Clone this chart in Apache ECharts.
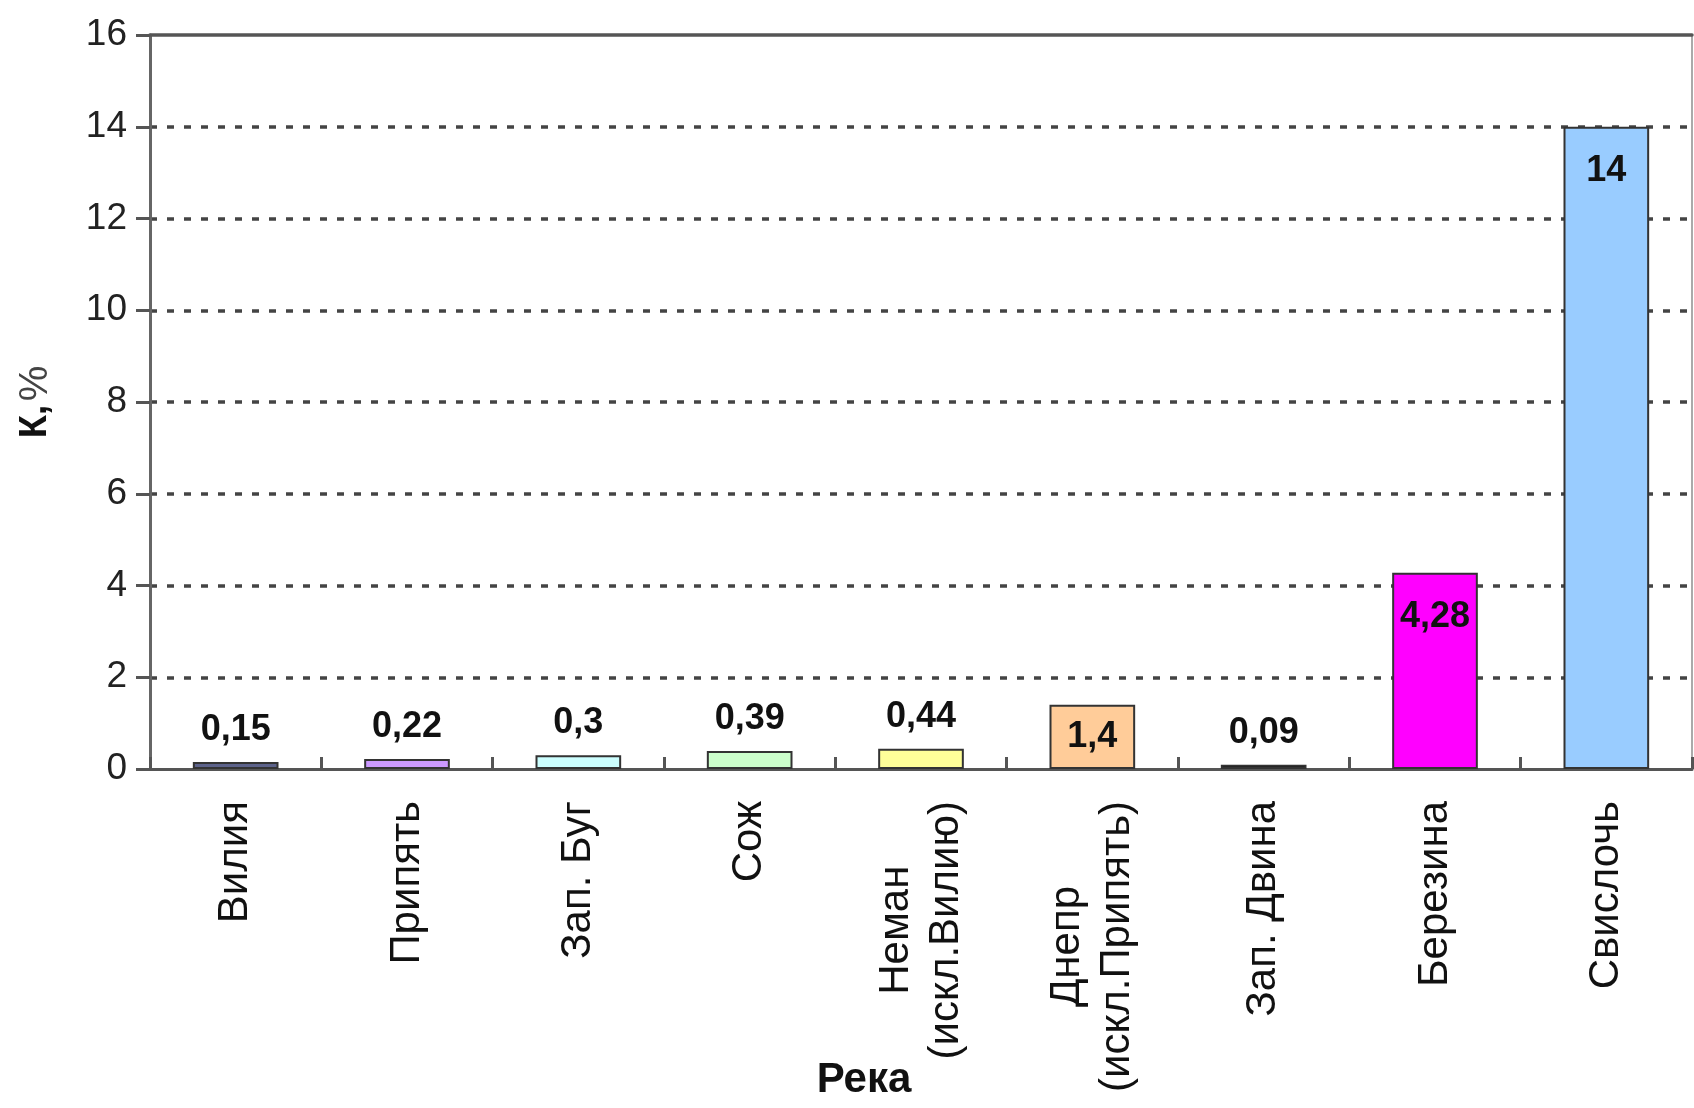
<!DOCTYPE html>
<html>
<head>
<meta charset="utf-8">
<title>К, % по рекам</title>
<script src="https://cdn.jsdelivr.net/npm/echarts@6/dist/echarts.min.js"></script>
<style>
  html, body { margin: 0; padding: 0; background: #ffffff; }
  #chart { width: 1694px; height: 1108px; }
</style>
</head>
<body>
<div id="chart"></div>
<script>
// Rivers along the category axis
const categories = [
  'Вилия', 'Припять', 'Зап. Буг', 'Сож', 'Неман\n(искл.Вилию)',
  'Днепр\n(искл.Припять)', 'Зап. Двина', 'Березина', 'Свислочь'
];
// K, % for each river
const values = [0.15, 0.22, 0.3, 0.39, 0.44, 1.4, 0.09, 4.28, 14];
// Fill colour of each bar
const barColors = [
  '#5c628a', '#cc99ff', '#ccffff', '#ccffcc', '#ffff99',
  '#ffcc99', '#000000', '#ff00ff', '#99ccff'
];
// Where each value label sits relative to its bar
const labelPlacement = ['top', 'top', 'top', 'top', 'top', 'inside', 'top', 'insideTop', 'insideTop'];
// Value axis range and step
const yMin = 0, yMax = 16, yStep = 2;

const NARROW = "'Liberation Sans Narrow', 'Arial Narrow', 'Liberation Sans', Arial, sans-serif";
const SANS = "'Liberation Sans', Arial, sans-serif";

const chart = echarts.init(document.getElementById('chart'), null, { renderer: 'canvas' });

const catFont = { fontFamily: SANS, fontSize: 42, color: '#111', lineHeight: 50 };

const seriesData = values.map((v, i) => ({
  value: v,
  itemStyle: { color: barColors[i] },
  label: {
    position: labelPlacement[i],
    distance: labelPlacement[i] === 'insideTop' ? 26 : 14
  }
}));

chart.setOption({
  backgroundColor: '#ffffff',
  animation: false,
  grid: { left: 150, right: 2, top: 35, bottom: 339, containLabel: false, outerBoundsMode: 'none' },
  xAxis: [
    {
      type: 'category',
      data: categories,
      position: 'bottom',
      name: 'Река',
      nameLocation: 'middle',
      nameGap: 290,
      nameMoveOverlap: false,
      nameTextStyle: {
        fontFamily: SANS, fontSize: 42, fontWeight: 'bold', color: '#111',
        padding: [0, 114, 0, 0]
      },
      axisLine: { show: true, lineStyle: { color: '#555', width: 3 } },
      axisTick: { show: true, inside: true, length: 12, alignWithLabel: false, lineStyle: { color: '#555', width: 3 } },
      axisLabel: {
        rotate: 90,
        margin: 32,
        interval: 0,
        ...catFont,
        formatter: function (v) {
          if (v.indexOf('\n') < 0) return v;
          return v.split('\n').map(s => '{c|' + s + '}').join('\n');
        },
        rich: { c: { ...catFont, align: 'center' } }
      },
      splitLine: { show: false }
    },
    {
      type: 'category',
      data: categories,
      position: 'top',
      axisLine: { show: true, onZero: false, lineStyle: { color: '#555', width: 3.5 } },
      axisTick: { show: false },
      axisLabel: { show: false },
      splitLine: { show: false }
    }
  ],
  yAxis: [
    {
      type: 'value',
      min: yMin,
      max: yMax,
      interval: yStep,
      position: 'left',
      name: '{b|К,} {n|%}',
      nameLocation: 'middle',
      nameRotate: 90,
      nameGap: 94,
      nameMoveOverlap: false,
      nameTextStyle: {
        rich: {
          b: { fontFamily: SANS, fontSize: 38, fontWeight: 'bold', color: '#111' },
          n: { fontFamily: SANS, fontSize: 40, color: '#444' }
        }
      },
      axisLine: { show: true, lineStyle: { color: '#666', width: 3 } },
      axisTick: { show: true, inside: false, length: 14, lineStyle: { color: '#555', width: 3 } },
      axisLabel: { margin: 23, fontFamily: NARROW, fontSize: 37, color: '#222' },
      splitLine: {
        show: true, showMinLine: false, showMaxLine: false,
        lineStyle: { color: '#444', width: 3.5, type: [7, 10] }
      }
    },
    {
      type: 'value',
      min: yMin,
      max: yMax,
      interval: yStep,
      position: 'right',
      axisLine: { show: true, lineStyle: { color: '#aaa', width: 2 } },
      axisTick: { show: false },
      axisLabel: { show: false },
      splitLine: { show: false }
    }
  ],
  series: [
    {
      type: 'bar',
      xAxisIndex: 0,
      yAxisIndex: 0,
      barWidth: '50%',
      data: seriesData,
      itemStyle: { borderColor: '#333', borderWidth: 2 },
      label: {
        show: true,
        fontFamily: NARROW,
        fontSize: 36,
        fontWeight: 'bold',
        color: '#111',
        formatter: p => String(p.value).replace('.', ',')
      }
    }
  ]
});
</script>
</body>
</html>
